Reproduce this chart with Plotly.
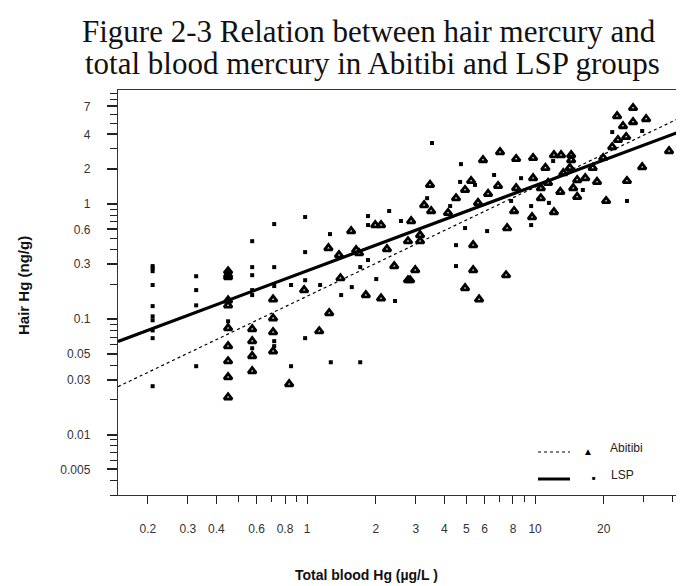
import numpy as np
import plotly.graph_objects as go

# ---------------- text ----------------
title_lines = ["Figure 2-3 Relation between hair mercury and",
               "total blood mercury in Abitibi and LSP groups"]
x_title = "Total blood Hg (µg/L )"
y_title = "Hair Hg (ng/g)"
legend_names = ["Abitibi", "LSP"]

# ---------------- ticks ----------------
x_tickvals = [0.2, 0.3, 0.4, 0.6, 0.8, 1, 2, 3, 4, 5, 6, 8, 10, 20]
x_ticktext = ["0.2", "0.3", "0.4", "0.6", "0.8", "1", "2", "3", "4", "5", "6", "8", "10", "20"]
y_tickvals = [7, 4, 2, 1, 0.6, 0.3, 0.1, 0.05, 0.03, 0.01, 0.005]
y_ticktext = ["7", "4", "2", "1", "0.6", "0.3", "0.1", "0.05", "0.03", "0.01", "0.005"]

# ---------------- data ----------------
abitibi_blood = [1.56, 1.99, 2.11, 2.24, 2.41, 1.24, 1.38, 1.64, 1.69, 0.45, 1.40, 2.77,
                 0.45, 0.45, 0.45, 0.45, 0.45, 0.45, 0.45, 0.45, 0.45,
                 0.574, 0.574, 0.574, 0.574, 0.709, 0.709, 0.709, 0.709,
                 0.97, 0.834, 1.13, 1.25, 1.81, 2.11,
                 26.9, 22.9, 26.9, 30.7, 24.3, 25.1, 23.1, 21.8, 45.5, 47.8, 38.7, 29.5,
                 25.3, 18.7, 20.5, 16.6, 15.3, 14.7, 15.3, 12.9, 12.1, 10.6, 10.6, 11.1,
                 12.1, 13.0, 14.4, 14.2, 14.4, 9.80, 9.80, 8.26, 7.02, 5.91, 3.46, 5.24,
                 4.93, 4.50, 6.22, 6.88, 8.09, 8.26, 9.70, 7.54, 3.26, 3.50, 2.86, 3.13,
                 3.13, 2.77, 2.98, 2.83, 5.35, 5.35, 7.46, 4.93, 5.68, 11.4, 13.3, 17.9,
                 19.9, 5.62, 4.15]
abitibi_hair = [0.581, 0.655, 0.655, 0.406, 0.289, 0.414, 0.360, 0.398, 0.374, 0.241, 0.227, 0.218,
                0.261, 0.232, 0.146, 0.132, 0.0838, 0.0585, 0.0433, 0.0315, 0.0211,
                0.0821, 0.0646, 0.0479, 0.0355, 0.149, 0.102, 0.0773, 0.0528,
                0.179, 0.0274, 0.0788, 0.113, 0.162, 0.152,
                6.78, 5.77, 5.12, 5.44, 4.73, 3.80, 3.58, 3.11, 6.78, 7.48, 2.87, 2.08,
                1.58, 1.55, 1.06, 1.67, 1.61, 1.37, 1.15, 1.27, 0.849, 1.12, 1.37, 2.05,
                2.65, 2.65, 2.65, 2.05, 2.40, 1.67, 2.50, 2.45, 2.81, 2.40, 1.46, 1.58,
                1.32, 1.12, 1.22, 1.43, 0.867, 1.37, 0.769, 0.617, 0.977, 0.867, 0.710, 0.536,
                0.475, 0.475, 0.267, 0.218, 0.439, 0.267, 0.241, 0.186, 0.149, 1.52, 1.85, 2.05,
                2.50, 1.02, 0.834]

lsp_blood = [2.29, 0.98, 0.717, 2.58, 1.85, 1.85, 0.574, 1.26, 0.98, 0.21, 0.21, 0.326,
             0.574, 0.717, 2.01, 1.85, 1.71, 0.21, 0.21, 0.21, 0.21, 0.21, 0.21, 0.21,
             0.21, 0.326, 0.326, 0.326, 0.574, 0.574, 0.574, 0.574, 0.717, 0.717, 0.717,
             0.98, 0.98, 0.85, 0.85, 1.14, 1.27, 1.71, 1.57, 1.41, 2.43, 0.45,
             3.53, 4.73, 21.8, 6.61, 4.69, 3.36, 4.50, 4.50, 11.5, 9.61, 9.61, 16.2,
             25.3, 12.0, 4.93, 6.16, 29.5, 4.24, 5.45, 7.85, 8.68]
lsp_hair = [0.867, 0.769, 0.668, 0.710, 0.784, 0.655, 0.475, 0.547, 0.382, 0.277, 0.198, 0.236,
            0.283, 0.283, 0.223, 0.326, 0.283, 0.289, 0.261, 0.130, 0.106, 0.098, 0.080, 0.0686,
            0.0263, 0.179, 0.132, 0.0392, 0.241, 0.179, 0.162, 0.0561, 0.194, 0.0646, 0.0585,
            0.218, 0.0686, 0.198, 0.0392, 0.198, 0.0424, 0.0424, 0.190, 0.162, 0.144, 0.096,
            3.37, 2.21, 4.19, 1.78, 1.55, 1.12, 0.439, 0.289, 1.02, 0.957, 0.655, 1.32,
            1.06, 2.35, 0.617, 0.581, 4.28, 0.957, 1.46, 1.06, 1.67]

# regression fits: log10(hair) = a + b*log10(blood)
abitibi_fit = (-0.80, 0.945)
lsp_fit = (-0.58, 0.7375)

x_range = [0.148, 48.8]
y_range = [0.003, 9.7]

fit_x = np.logspace(np.log10(x_range[0]), np.log10(x_range[1]), 60)


def fit_line(fit):
    a, b = fit
    return 10 ** (a + b * np.log10(fit_x))


fig = go.Figure()
fig.add_trace(go.Scatter(x=lsp_blood, y=lsp_hair, mode="markers", name=legend_names[1],
                         cliponaxis=False,
                         marker=dict(symbol="square", size=4, color="black"), showlegend=False))
fig.add_trace(go.Scatter(x=abitibi_blood, y=abitibi_hair, mode="markers", name=legend_names[0],
                         cliponaxis=False,
                         marker=dict(symbol="triangle-up-open", size=7, color="black",
                                     line=dict(width=2.8, color="black")), showlegend=False))
fig.add_trace(go.Scatter(x=fit_x, y=fit_line(abitibi_fit), mode="lines", showlegend=False,
                         line=dict(color="black", width=1.2, dash="dot")))
fig.add_trace(go.Scatter(x=fit_x, y=fit_line(lsp_fit), mode="lines", showlegend=False,
                         line=dict(color="black", width=3.2)))


def minor_vals(lo_exp, hi_exp):
    return [d * 10.0 ** k for k in range(lo_exp, hi_exp + 1) for d in range(1, 10)]


tick_font = dict(family="Liberation Sans, Arial, sans-serif", size=12, color="#333")

fig.update_xaxes(type="log", range=[np.log10(x_range[0]), np.log10(x_range[1])],
                 tickmode="array", tickvals=x_tickvals, ticktext=x_ticktext,
                 ticks="outside", ticklen=8, tickwidth=1.3, tickcolor="#222",
                 ticklabelstandoff=14, tickfont=tick_font,
                 minor=dict(tickmode="array", tickvals=minor_vals(-1, 1), ticks="outside",
                            ticklen=6, tickwidth=1, tickcolor="#222"),
                 showline=True, linecolor="#333", linewidth=1.4, mirror=True,
                 showgrid=False, zeroline=False)
fig.update_yaxes(type="log", range=[np.log10(y_range[0]), np.log10(y_range[1])],
                 tickmode="array", tickvals=y_tickvals, ticktext=y_ticktext,
                 ticks="outside", ticklen=10, tickwidth=1.6, tickcolor="#222",
                 ticklabelstandoff=14, tickfont=tick_font,
                 minor=dict(tickmode="array", tickvals=minor_vals(-3, 0), ticks="outside",
                            ticklen=7, tickwidth=1.2, tickcolor="#222"),
                 showline=True, linecolor="#333", linewidth=1.4, mirror=True,
                 showgrid=False, zeroline=False)

# pixel -> paper helpers for the decorations
L, T, R, B = 110, 82, 684, 487
def px(xp):
    return (xp - L) / (R - L)
def py(yp):
    return (B - yp) / (B - T)

shapes = [
    dict(type="line", xref="paper", yref="paper", x0=px(530), x1=px(562), y0=py(444), y1=py(444),
         line=dict(color="black", width=1.2, dash="dot")),
    dict(type="line", xref="paper", yref="paper", x0=px(530), x1=px(562), y0=py(471), y1=py(471),
         line=dict(color="black", width=3)),
]
legend_font = dict(family="Liberation Sans, Arial", size=12, color="#222")
annotations = [
    dict(xref="paper", yref="paper", x=px(587), y=py(452), text="▲", showarrow=False,
         font=dict(size=10, color="black")),
    dict(xref="paper", yref="paper", x=px(590), y=py(476), text="■", showarrow=False,
         font=dict(size=6, color="black")),
    dict(xref="paper", yref="paper", x=px(600), y=py(449), xanchor="left", text=legend_names[0],
         showarrow=False, font=legend_font),
    dict(xref="paper", yref="paper", x=px(601), y=py(476), xanchor="left", text=legend_names[1],
         showarrow=False, font=legend_font),
    dict(xref="paper", yref="paper", x=px(358), y=py(567), xanchor="center", yanchor="middle",
         text="<b>" + x_title + "</b>", showarrow=False,
         font=dict(family="Liberation Sans, Arial", size=14, color="#111")),
    dict(xref="paper", yref="paper", x=px(15), y=py(278), xanchor="center", yanchor="middle",
         text="<b>" + y_title + "</b>", showarrow=False, textangle=-90,
         font=dict(family="Liberation Sans, Arial", size=15, color="#111")),
    dict(xref="paper", yref="paper", x=px(361), y=py(24), xanchor="center", yanchor="middle",
         text=title_lines[0], showarrow=False,
         font=dict(family="Liberation Serif, Times New Roman, serif", size=31, color="#111")),
    dict(xref="paper", yref="paper", x=px(364), y=py(56), xanchor="center", yanchor="middle",
         text=title_lines[1], showarrow=False,
         font=dict(family="Liberation Serif, Times New Roman, serif", size=31, color="#111")),
]

fig.update_layout(
    width=684, height=586,
    margin=dict(l=L, r=684 - R, t=T, b=586 - B),
    paper_bgcolor="white", plot_bgcolor="white",
    shapes=shapes, annotations=annotations,
    showlegend=False,
)

fig.write_html("out.html")
